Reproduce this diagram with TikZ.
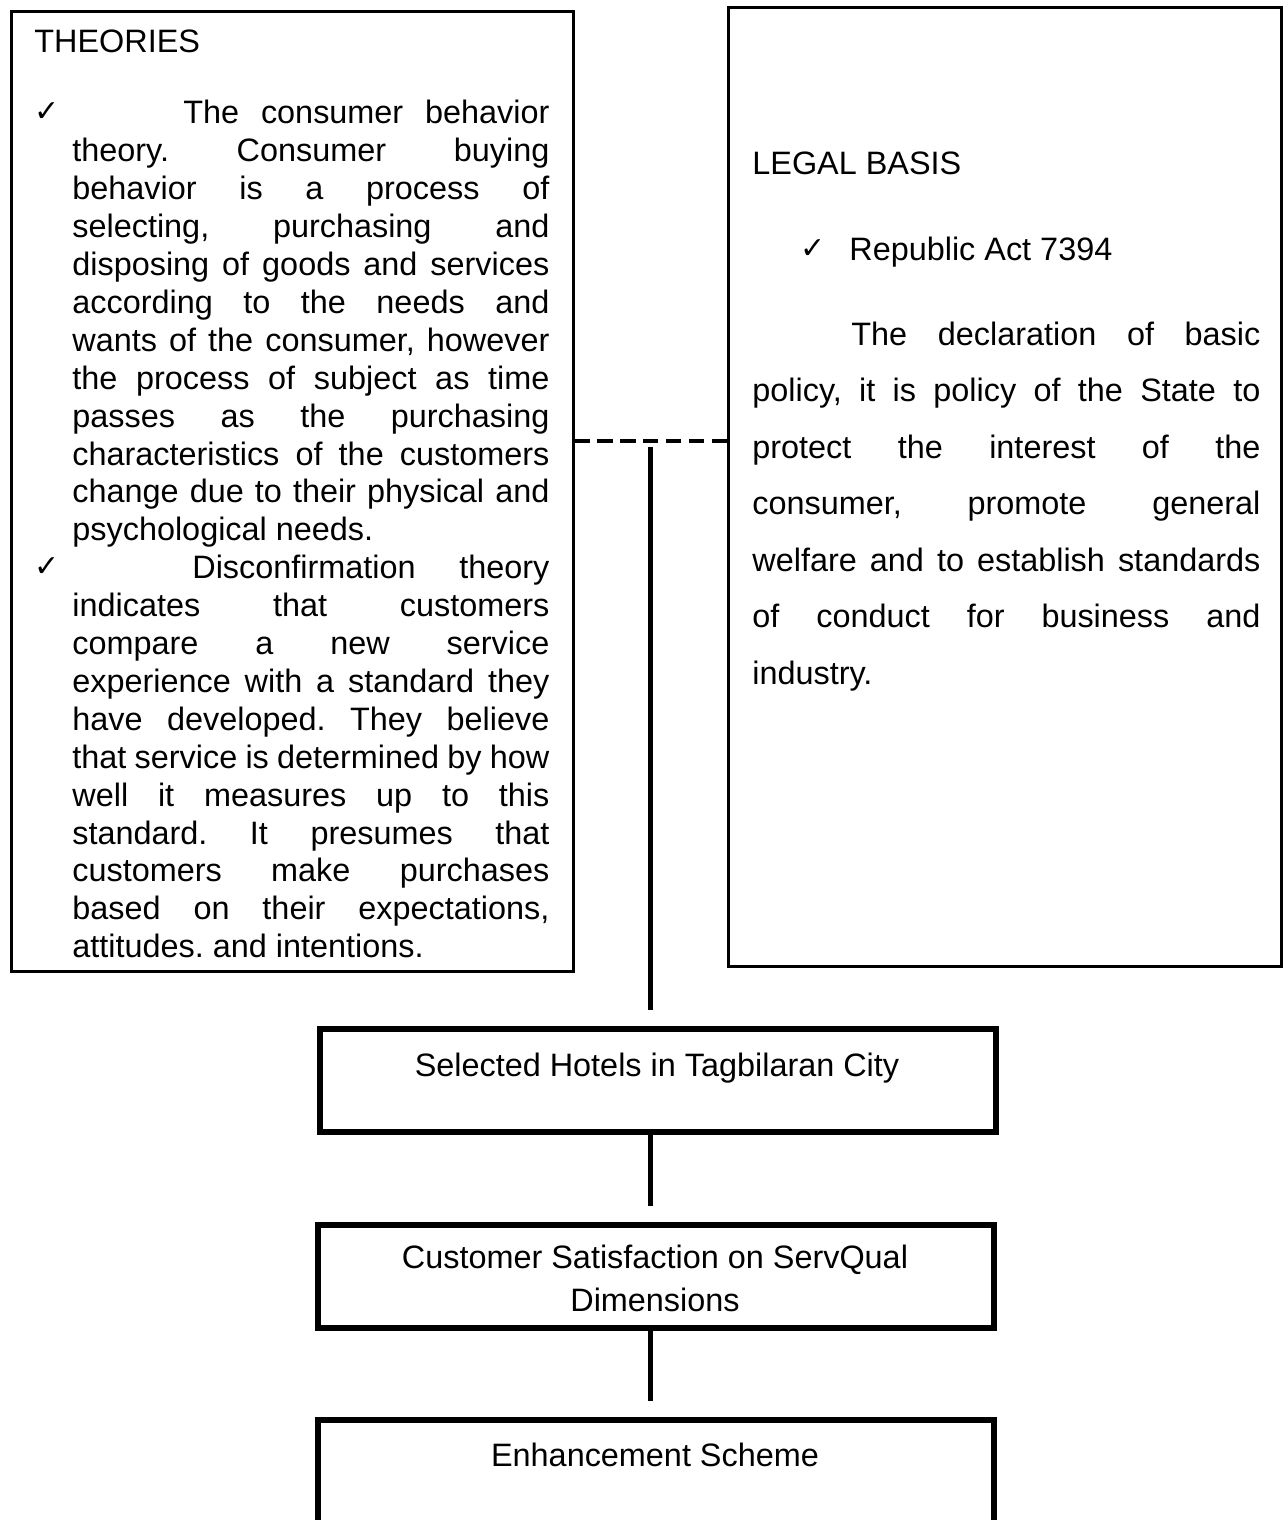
\documentclass[tikz,border=0pt]{standalone}
\usepackage{fontspec}
\setmainfont{Liberation Sans}
\newfontfamily\chkfont{DejaVu Sans}
\frenchspacing
\begin{document}
\begin{tikzpicture}[x=0.5pt,y=-0.5pt,
  topbox/.style={draw, line width=1.5pt, inner sep=0pt},
  flowbox/.style={draw, line width=3pt, inner sep=0pt, minimum width=338pt, minimum height=51.5pt},
  txt/.style={inner sep=0pt, anchor=base west, font=\fontsize{16.2}{18.95}\selectfont},
  para/.style={txt, align=justify},
  ctr/.style={inner sep=0pt, anchor=base, align=center, font=\fontsize{16.2}{21.5}\selectfont},
  chk/.style={inner sep=0pt, anchor=base west, font=\chkfont\fontsize{15}{15}\selectfont},
  link/.style={line width=2.5pt, shorten >=8pt},
  dashlink/.style={line width=2pt, dash pattern=on 7.6pt off 3.85pt}]
\useasboundingbox (0,0) rectangle (1287,1520);

% top boxes
\node[topbox, minimum width=281pt, minimum height=479.5pt] (theo) at (292,491.5) {};
\node[topbox, minimum width=276.5pt, minimum height=479pt] (legal) at (1004.5,487) {};

% theories text
\node[txt] (theot) at (34,53) {THEORIES};
\node[chk] (c1) at (34,121) {✓};
\node[chk] (c2) at (34,576) {✓};
\node[para, text width=238.5pt] (theop) at (72,124) {\parindent0pt
\hspace*{55.5pt}The consumer behavior\linebreak
theory. Consumer buying\linebreak
behavior is a process of\linebreak
selecting, purchasing and\linebreak
disposing of goods and services\linebreak
according to the needs and\linebreak
wants of the consumer, however\linebreak
the process of subject as time\linebreak
passes as the purchasing\linebreak
characteristics of the customers\linebreak
change due to their physical and\linebreak
psychological needs.\par
\hspace*{60pt}Disconfirmation theory\linebreak
indicates that customers\linebreak
compare a new service\linebreak
experience with a standard they\linebreak
have developed. They believe\linebreak
that service is determined by how\linebreak
well it measures up to this\linebreak
standard. It presumes that\linebreak
customers make purchases\linebreak
based on their expectations,\linebreak
attitudes. and intentions.};

% legal basis text
\node[txt] (legt) at (752,175) {LEGAL BASIS};
\node[chk] (c3) at (800,258) {✓};
\node[txt] (ra) at (849,260) {Republic Act 7394};
\node[para, text width=254pt, font=\fontsize{16.2}{28.25}\selectfont] (legp) at (752,345) {\parindent0pt
\hspace*{49.5pt}The declaration of basic\linebreak
policy, it is policy of the State to\linebreak
protect the interest of the\linebreak
consumer, promote general\linebreak
welfare and to establish standards\linebreak
of conduct for business and\linebreak
industry.};

% flow boxes
\node[flowbox] (b1) at (658,1080.5) {};
\node[flowbox] (b2) at (655.5,1276) {};
\node[flowbox, minimum height=55pt] (b3) at (655.5,1475) {};
\node[ctr] (t1) at (657,1076) {Selected Hotels in Tagbilaran City};
\node[ctr] (t2) at (655,1311) {Customer Satisfaction on ServQual\\Dimensions};
\node[ctr] (t3) at (655,1466) {Enhancement Scheme};

% connectors
\coordinate (j) at (650,441);
\draw[dashlink] (theo.east |- j) -- (legal.west |- j);
\draw[link] ([yshift=-3pt]j) -- (j |- b1.north);
\draw[link] (b1.south -| j) -- (b2.north -| j);
\draw[link] (b2.south -| j) -- (b3.north -| j);
\end{tikzpicture}
\end{document}
